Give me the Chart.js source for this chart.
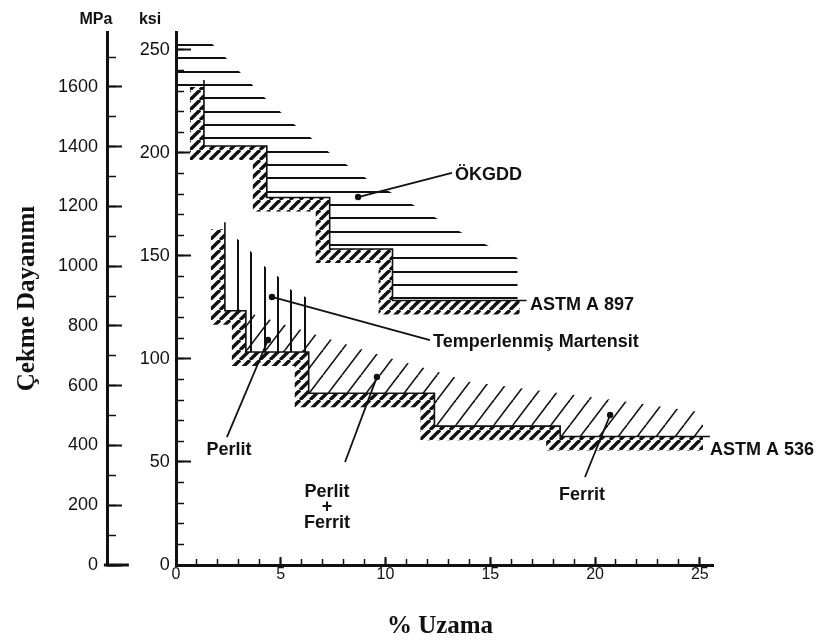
<!DOCTYPE html>
<html lang="tr">
<head>
<meta charset="utf-8">
<title>Çekme Dayanımı - % Uzama</title>
<script src="https://cdn.jsdelivr.net/npm/chart.js@4.4.1/dist/chart.umd.min.js"></script>
<style>
  html, body { margin: 0; padding: 0; background: #fff; }
  #wrap { width: 817px; height: 641px; }
</style>
</head>
<body>
<div id="wrap"><canvas id="chart" width="817" height="641"></canvas></div>
<script>
// Çekme dayanımı / % uzama - ÖKGDD (ASTM A 897) ve küresel grafitli dökme demir (ASTM A 536)

// ============ DATA (x = % uzama, y = ksi) ============

// minimum property steps
const a897X   = [1, 4, 7, 10, 16.4];
const a897Ksi = [232, 200, 175, 150, 125];
const a536X   = [2, 3, 6, 12, 18, 25.15];
const a536Ksi = [163, 120, 100, 80, 64, 59];

// upper limit of the ÖKGDD band (horizontal hatching)
const adiTopX   = [0, 1.72, 3.05, 4.25, 5.68, 7.35, 9.12, 11.31, 13.56, 14.9, 16.3, 16.3];
const adiTopKsi = [253, 253, 239.3, 226.7, 213.6, 200, 187.4, 174.8, 161.7, 154.9, 149, 125];

// upper limit of the tempered martensite area (vertical hatching)
const tmTopX   = [2.6, 2.96, 3.63, 4.25, 4.9, 5.5, 6.3];
const tmTopKsi = [160, 158, 151.5, 144.7, 139.8, 133.5, 129.5];

// upper limit of the A 536 band (diagonal hatching)
const diTopX   = [3, 7.2, 10.2, 12.4, 14, 21, 25.15];
const diTopKsi = [124, 110, 100.5, 94, 89, 80, 74];

// leader lines: tip (dot) and tail
const leaderTipX   = [8.69, 4.58, 4.39, 9.59, 20.72];
const leaderTipKsi = [178.6, 130.1, 109.2, 91.3, 72.8];
const leaderEndX   = [13.17, 12.12, 2.43, 8.07, 19.52];
const leaderEndKsi = [190.3, 109.2, 62.1, 50, 42.7];

// labels
const noteText  = ['ÖKGDD', 'ASTM A 897', 'Temperlenmiş Martensit', 'Perlit', 'Perlit', '+', 'Ferrit', 'Ferrit', 'ASTM A 536'];
const noteX     = [13.32, 16.9, 12.27, 2.53, 7.21, 7.21, 7.21, 19.38, 25.49];
const noteKsi   = [189.3, 126.2, 108.3, 55.8, 35.4, 28.2, 20.4, 34, 55.8];
const noteAlign = ['left', 'left', 'left', 'center', 'center', 'center', 'center', 'center', 'left'];

// tick labels
const xTickLabels   = [0, 5, 10, 15, 20, 25];
const ksiTickLabels = [0, 50, 100, 150, 200, 250];
const mpaTickLabels = [0, 200, 400, 600, 800, 1000, 1200, 1400, 1600];

// axes
const xMax = 25.63;
const ksiMax = 258.7;
const MPA_PER_KSI = 6.895;
const mpaAxisAt = -3.25;      // % uzama value where the MPa axis sits
const ksiLabelAt = -0.3;      // right edge of the ksi labels
const mpaLabelAt = -3.72;     // right edge of the MPa labels

// ============ HELPERS ============

const zip = (xs, ys) => xs.map((x, i) => ({x, y: ys[i]}));

// corner points of a vertical-first stepped line
function stepPoints(xs, ys) {
  const pts = [{x: xs[0], y: ys[0]}];
  for (let i = 1; i < xs.length; i++) {
    pts.push({x: xs[i - 1], y: ys[i]});
    pts.push({x: xs[i], y: ys[i]});
  }
  return pts;
}

function makePattern(w, h, draw) {
  const c = document.createElement('canvas');
  c.width = w; c.height = h;
  const g = c.getContext('2d');
  draw(g, w, h);
  return g.createPattern(c, 'repeat');
}

const ink = '#111';

const hLines = makePattern(8, 40, (g, w) => {
  g.fillStyle = ink;
  [5, 18, 32].forEach(r => g.fillRect(0, r - 1, w, 2));
});
const vLines = makePattern(40, 8, (g, w, h) => {
  g.fillStyle = ink;
  [11, 25, 38].forEach(c => g.fillRect(c - 1, 0, 2, h));
});
const diagLines = makePattern(19, 25, (g, w, h) => {
  g.strokeStyle = ink; g.lineWidth = 1.6;
  for (let k = -1; k <= 1; k++) {
    g.beginPath(); g.moveTo(k * w, h); g.lineTo(k * w + w, 0); g.stroke();
  }
});
const stripHatch = makePattern(10, 10, (g, w, h) => {
  g.fillStyle = '#fff'; g.fillRect(0, 0, w, h);
  g.strokeStyle = ink; g.lineWidth = 3.4;
  for (let k = -1; k <= 1; k++) {
    g.beginPath(); g.moveTo(k * w, h); g.lineTo(k * w + w, 0); g.stroke();
  }
});

// ============ SHAPES ============

const a897Steps = stepPoints(a897X, a897Ksi);
const a536Steps = stepPoints(a536X, a536Ksi);

const adiShape = zip(adiTopX, adiTopKsi)
  .concat(a897Steps.slice().reverse())
  .concat([{x: 0, y: a897Ksi[0]}]);

const tmShape = zip(tmTopX, tmTopKsi).concat([
  {x: tmTopX[tmTopX.length - 1], y: a536Ksi[2]},
  {x: a536X[1], y: a536Ksi[2]},
  {x: a536X[1], y: a536Ksi[1]},
  {x: tmTopX[0], y: a536Ksi[1]}
]);

const diShape = zip(diTopX, diTopKsi).concat(a536Steps.slice(2).reverse());

// ============ DATASETS ============

const areaSet = (data, pattern) => ({
  data, fill: 'shape', backgroundColor: pattern, borderWidth: 0, pointRadius: 0, order: 10
});
const stripSet = (xs, ys) => ({
  data: zip(xs, ys), stepped: 'after', fill: false,
  borderColor: stripHatch, borderWidth: 14, borderCapStyle: 'butt', borderJoinStyle: 'miter',
  pointRadius: 0, order: 5
});
const edgeSet = (xs, ys) => ({
  data: zip(xs, ys), stepped: 'after', fill: false,
  borderColor: ink, borderWidth: 1.6, pointRadius: 0, order: 4, shift: [7, -7]
});

const datasets = [
  areaSet(adiShape, hLines),
  areaSet(diShape, diagLines),
  areaSet(tmShape, vLines),
  stripSet(a897X, a897Ksi),
  stripSet(a536X, a536Ksi),
  edgeSet(a897X, a897Ksi),
  edgeSet(a536X, a536Ksi)
];

leaderTipX.forEach((tx, i) => {
  datasets.push({
    data: [{x: tx, y: leaderTipKsi[i]}, {x: leaderEndX[i], y: leaderEndKsi[i]}],
    fill: false, borderColor: ink, borderWidth: 1.8,
    pointRadius: [3.2, 0], pointBackgroundColor: ink, pointBorderWidth: 0, order: 1
  });
});

// ============ PLUGINS ============

// outer edge line of each hatched strip, offset from the step line
const shiftPlugin = {
  id: 'shift',
  beforeDatasetDraw(chart, args) {
    const ds = chart.data.datasets[args.index];
    if (ds.shift) { chart.ctx.save(); chart.ctx.translate(ds.shift[0], ds.shift[1]); }
  },
  afterDatasetDraw(chart, args) {
    if (chart.data.datasets[args.index].shift) chart.ctx.restore();
  }
};

const notesPlugin = {
  id: 'notes',
  afterDraw(chart) {
    const {ctx, chartArea, scales: {x, y}} = chart;
    const mpaPx = x.getPixelForValue(mpaAxisAt);
    const ksiPx = x.getPixelForValue(0);
    ctx.save();
    ctx.fillStyle = ink;
    ctx.strokeStyle = ink;

    // foot of the MPa axis
    ctx.lineWidth = 3;
    ctx.beginPath();
    ctx.moveTo(mpaPx - 4, chartArea.bottom);
    ctx.lineTo(mpaPx + 21, chartArea.bottom);
    ctx.stroke();

    ctx.textBaseline = 'middle';
    ctx.font = 'bold 18px "Liberation Sans", Arial, sans-serif';
    noteText.forEach((t, i) => {
      ctx.textAlign = noteAlign[i];
      ctx.fillText(t, x.getPixelForValue(noteX[i]), y.getPixelForValue(noteKsi[i]));
    });

    // units above the two vertical axes
    ctx.textAlign = 'center';
    ctx.font = 'bold 16px "Liberation Sans", Arial, sans-serif';
    ctx.fillText('MPa', mpaPx - 12, chartArea.top - 12);
    ctx.fillText('ksi', ksiPx - 26, chartArea.top - 12);

    // axis titles
    ctx.font = 'bold 25px "Liberation Serif", "Times New Roman", serif';
    ctx.fillText('% Uzama', 440, 627);
    ctx.translate(28, (chartArea.top + chartArea.bottom) / 2);
    ctx.rotate(-Math.PI / 2);
    ctx.fillText('Çekme Dayanımı', 0, 0);
    ctx.restore();
  }
};

// ============ CHART ============

const sans = '"Liberation Sans", Arial, sans-serif';

// one axis layer: tick marks / border / labels, each optional
function axis(axisName, pos, max, o) {
  return {
    type: 'linear', axis: axisName, position: pos, min: 0, max,
    afterBuildTicks: o.values ? (s => { s.ticks = o.values.map(value => ({value})); }) : undefined,
    ticks: {
      stepSize: o.step, display: !!o.labels, includeBounds: false, autoSkip: false,
      maxTicksLimit: 1000, maxRotation: 0, padding: o.padding || 0, color: ink,
      font: {family: sans, size: o.size || 16},
      callback: v => String(v)
    },
    grid: {
      display: !!o.tickLen, drawOnChartArea: false, tickLength: o.tickLen || 0,
      tickWidth: o.tickWidth || 2, tickColor: ink
    },
    border: {display: !!o.border, width: 3, color: ink}
  };
}

const mpaMax = ksiMax * MPA_PER_KSI;

new Chart(document.getElementById('chart'), {
  type: 'line',
  data: {datasets},
  options: {
    responsive: false,
    animation: false,
    events: [],
    layout: {padding: {left: 176, right: 104, top: 32, bottom: 76}},
    plugins: {legend: {display: false}, tooltip: {enabled: false}},
    scales: {
      x:         axis('x', {y: 0}, xMax, {values: xTickLabels, tickLen: -10, labels: true, border: true, padding: 10, size: 16}),
      xMinor:    axis('x', {y: 0}, xMax, {step: 1, tickLen: -6, tickWidth: 1.5}),
      y:         axis('y', {x: 0}, ksiMax, {values: ksiTickLabels, tickLen: -16, border: true}),
      yMinor:    axis('y', {x: 0}, ksiMax, {step: 10, tickLen: -8, tickWidth: 1.5}),
      yLabels:   axis('y', {x: ksiLabelAt}, ksiMax, {values: ksiTickLabels, labels: true, size: 18}),
      mpa:       axis('y', {x: mpaAxisAt}, mpaMax, {values: mpaTickLabels, tickLen: -16, border: true}),
      mpaMinor:  axis('y', {x: mpaAxisAt}, mpaMax, {step: 100, tickLen: -8, tickWidth: 1.5}),
      mpaLabels: axis('y', {x: mpaLabelAt}, mpaMax, {values: mpaTickLabels, labels: true, size: 18})
    }
  },
  plugins: [shiftPlugin, notesPlugin]
});
</script>
</body>
</html>
